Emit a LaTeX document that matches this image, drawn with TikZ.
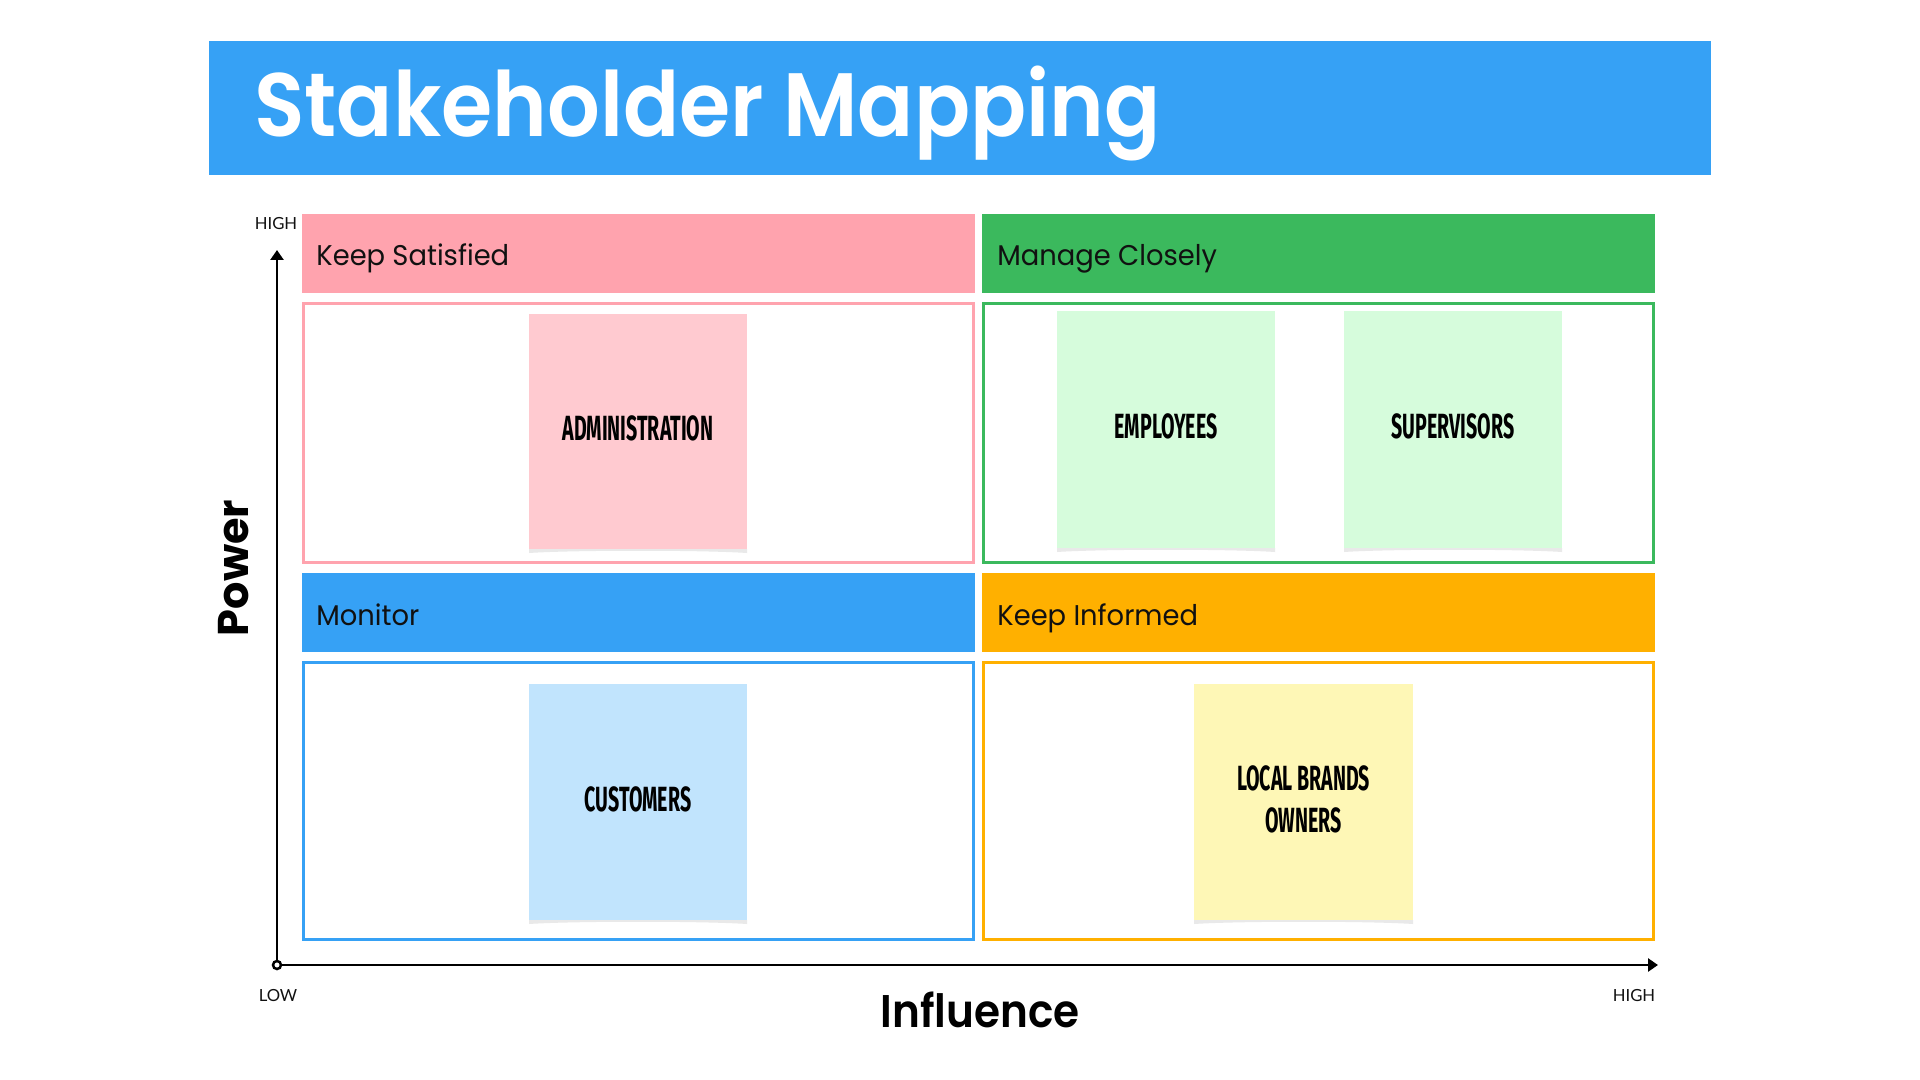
\documentclass[tikz,border=0pt]{standalone}
\usepackage{fontspec}
\setmainfont{Lato}
\newfontfamily\popfont{Poppins}
\newfontfamily\poptitle[FakeStretch=0.92]{Poppins SemiBold}
\newfontfamily\pophead[FakeStretch=0.96]{Poppins}
\newfontfamily\notefont[FakeStretch=0.56]{Fira Sans}
\usetikzlibrary{arrows.meta}
\definecolor{titleblue}{HTML}{36A1F5}
\definecolor{pinkhead}{HTML}{FFA3AE}
\definecolor{greenhead}{HTML}{3BB95D}
\definecolor{bluehead}{HTML}{36A1F5}
\definecolor{orangehead}{HTML}{FFB000}
\definecolor{pinknote}{HTML}{FFCAD0}
\definecolor{greennote}{HTML}{D6FCDC}
\definecolor{bluenote}{HTML}{C1E4FD}
\definecolor{yellownote}{HTML}{FEF7B6}
\definecolor{shadowgray}{HTML}{E9E9E9}
\definecolor{ink}{HTML}{111111}
\tikzset{
  header/.style={anchor=north west, inner sep=0pt, outer sep=0pt, minimum width=336.5pt, minimum height=39.5pt},
  headlabel/.style={anchor=base west, inner sep=0pt, text=ink, font=\pophead\fontsize{14.25}{16}\selectfont},
  quadbox/.style={anchor=north west, inner sep=0pt, outer sep=0pt, line width=1.5pt, fill=white, minimum width=335pt},
  notetext/.style={inner sep=0pt, align=center, text=black, font=\notefont\bfseries\fontsize{17.5}{21}\selectfont},
  axis/.style={line width=1.25pt, draw=black},
  axislabel/.style={anchor=base, inner sep=0pt, text=ink, font=\fontsize{8.35}{10}\selectfont},
}
\newcommand\stickynote[7]{%
  \fill[shadowgray] (#2,#5) -- (#4,#5) -- (#4,#5+4) .. controls (#4-45,#5+1) and (#2+45,#5+1) .. (#2,#5+4) -- cycle;
  \fill[#6] (#2,#3) rectangle (#4,#5);
  \node[notetext] (#1) at ({(#2+#4)/2},{(#3+#5)/2-3}) {#7};
}
\begin{document}
\begin{tikzpicture}[x=0.5pt, y=-0.5pt]
\useasboundingbox[fill=white] (0,0) rectangle (1920,1080);

% title
\node[anchor=north west, fill=titleblue, inner sep=0pt, outer sep=0pt, minimum width=751pt, minimum height=67pt] (titlebar) at (209,41) {};
\node[anchor=base west, inner sep=0pt, text=white, font=\poptitle\fontsize{45}{52}\selectfont] (titletext) at (254,137) {Stakeholder Mapping};

% headers
\node[header, fill=pinkhead] (hks) at (302,214) {};
\node[header, fill=greenhead] (hmc) at (982,214) {};
\node[header, fill=bluehead] (hmo) at (302,573) {};
\node[header, fill=orangehead] (hki) at (982,573) {};
\node[headlabel] (lks) at (316,266) {Keep Satisfied};
\node[headlabel] (lmc) at (997,266) {Manage Closely};
\node[headlabel] (lmo) at (316,625) {Monitor};
\node[headlabel] (lki) at (997,625) {Keep Informed};

% quadrant boxes
\node[quadbox, draw=pinkhead, minimum height=129.5pt] (bks) at (303.5,303.5) {};
\node[quadbox, draw=greenhead, minimum height=129.5pt] (bmc) at (983.5,303.5) {};
\node[quadbox, draw=bluehead, minimum height=138.5pt] (bmo) at (303.5,662.5) {};
\node[quadbox, draw=orangehead, minimum height=138.5pt] (bki) at (983.5,662.5) {};

% sticky notes
\stickynote{nadmin}{529}{314}{747}{549}{pinknote}{ADMINISTRATION}
\stickynote{nemp}{1057}{311}{1275}{548}{greennote}{EMPLOYEES}
\stickynote{nsup}{1344}{311}{1562}{548}{greennote}{SUPERVISORS}
\stickynote{ncust}{529}{684}{747}{920}{bluenote}{CUSTOMERS}
\stickynote{nlocal}{1194}{684}{1413}{920}{yellownote}{LOCAL BRANDS\\OWNERS}

% axes
\coordinate (origin) at (277,965);
\coordinate (ytip) at (277,250);
\coordinate (xtip) at (1658,965);
\draw[axis, -{Triangle[length=5pt, width=6.5pt]}] (origin) -- (ytip);
\draw[axis, -{Triangle[length=5pt, width=6.5pt]}] (origin) -- (xtip);
\node[circle, draw=black, fill=white, line width=1.25pt, inner sep=0pt, minimum size=4pt] (orig) at (origin) {};

\node[axislabel] (yhigh) at (276,230) {HIGH};
\node[axislabel] (xlow) at (278,1001) {LOW};
\node[axislabel] (xhigh) at (1634,1001) {HIGH};

\node[rotate=90, anchor=base, inner sep=0pt, text=black, font=\popfont\bfseries\fontsize{21.5}{24}\selectfont] (power) at (248,568) {Power};
\node[anchor=base, inner sep=0pt, text=black, font=\poptitle\fontsize{22.9}{26}\selectfont] (influence) at (980,1027) {Influence};
\end{tikzpicture}
\end{document}
